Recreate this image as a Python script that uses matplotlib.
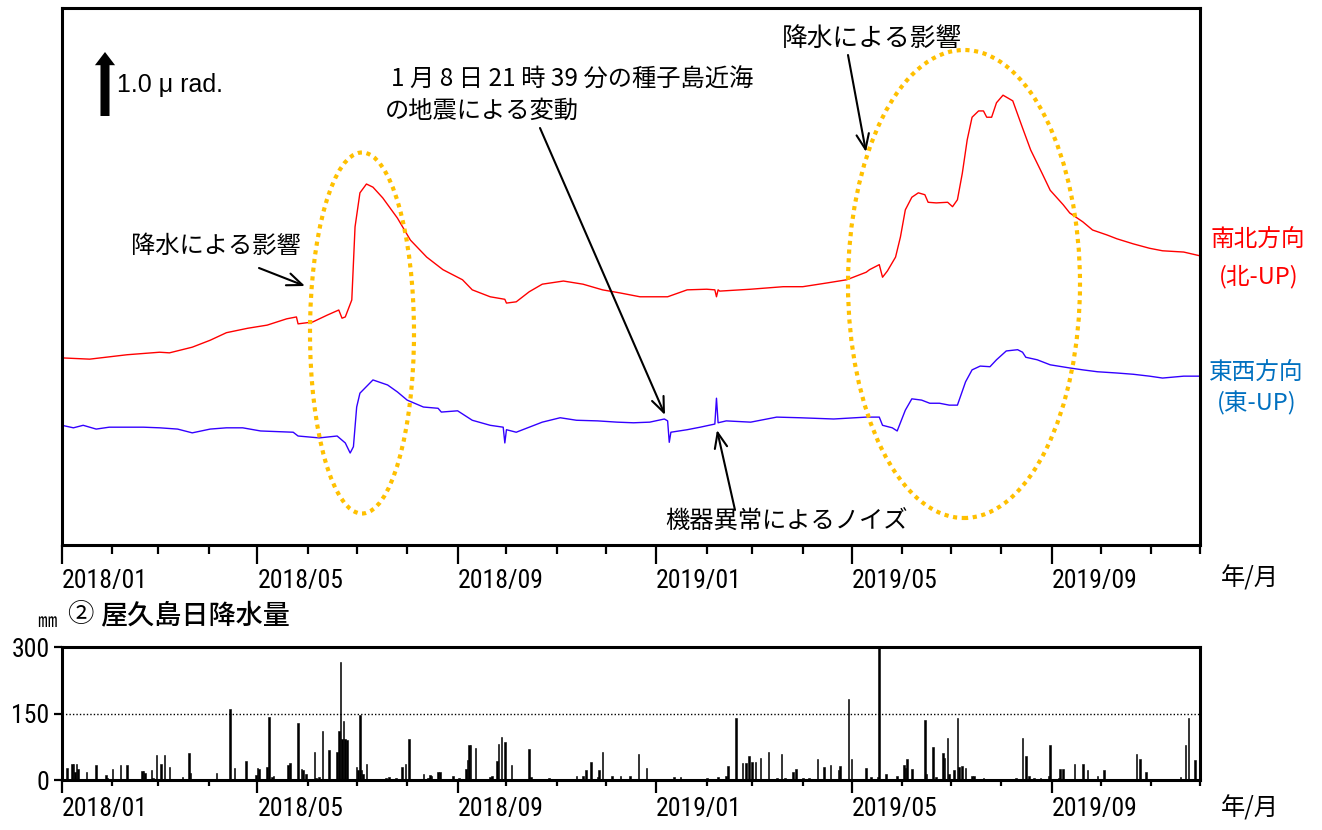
import numpy as np
import matplotlib
matplotlib.use("Agg")
import matplotlib.pyplot as plt
import matplotlib.dates as mdates
from matplotlib.patches import Ellipse
from matplotlib import font_manager
from matplotlib.font_manager import FontProperties

plt.rcParams['font.family'] = ['Noto Sans CJK JP', 'DejaVu Sans']

# ---------------- data ----------------
START = '2018-01-01'
END = '2019-12-01'

# 南北方向 (北-UP), days since 2018-01-01, tilt in micro-radian (relative)
ns_day = [0, 17, 40, 60, 66, 80, 91, 101, 114, 126, 138, 144, 145, 154, 163, 170, 172, 174,
          178, 180, 183, 187, 191, 197, 206, 214, 224, 234, 246, 252, 263, 272, 273, 279,
          287, 295, 308, 320, 332, 343, 355, 372, 384, 396, 401, 402, 403, 404, 423, 443,
          455, 470, 482, 494, 496, 502, 504, 507, 512, 515, 518, 522, 526, 530, 532, 537,
          544, 547, 550, 553, 556, 559, 563, 566, 568, 571, 574, 578, 584, 590, 595, 602,
          607, 615, 619, 627, 633, 642, 648, 658, 668, 676, 689, 699]
ns_urad = [2.97, 2.95, 3.02, 3.06, 3.05, 3.14, 3.25, 3.37, 3.44, 3.49, 3.59, 3.62, 3.51, 3.54,
           3.65, 3.73, 3.60, 3.62, 3.89, 5.05, 5.59, 5.73, 5.68, 5.51, 5.19, 4.84, 4.57, 4.37,
           4.21, 4.05, 3.94, 3.90, 3.84, 3.86, 4.02, 4.14, 4.19, 4.14, 4.05, 4.00, 3.94, 3.94,
           4.05, 4.06, 4.05, 3.94, 4.05, 4.03, 4.06, 4.10, 4.10, 4.16, 4.21, 4.33, 4.37, 4.45,
           4.25, 4.35, 4.57, 4.89, 5.32, 5.52, 5.59, 5.56, 5.44, 5.43, 5.44, 5.37, 5.48, 5.90,
           6.43, 6.79, 6.89, 6.89, 6.79, 6.79, 7.02, 7.14, 7.05, 6.62, 6.27, 5.90, 5.63, 5.40,
           5.27, 5.13, 5.00, 4.92, 4.86, 4.78, 4.71, 4.67, 4.65, 4.59]

# 東西方向 (東-UP)
ew_day = [0, 7, 13, 21, 29, 50, 60, 71, 80, 91, 101, 111, 122, 142, 145, 158, 169, 174, 177,
          179, 181, 183, 191, 200, 206, 212, 222, 231, 233, 243, 249, 252, 263, 271, 272, 273,
          279, 287, 295, 306, 316, 329, 341, 351, 361, 370, 372, 373, 374, 384, 392, 401, 402,
          403, 408, 423, 439, 453, 474, 494, 502, 504, 510, 513, 518, 522, 528, 533, 539, 545,
          550, 555, 559, 564, 570, 574, 580, 587, 590, 592, 599, 607, 619, 627, 636, 648, 658,
          668, 676, 689, 699]
ew_urad = [1.90, 1.86, 1.90, 1.84, 1.87, 1.87, 1.86, 1.84, 1.78, 1.84, 1.86, 1.86, 1.81, 1.79,
           1.73, 1.70, 1.73, 1.62, 1.46, 1.56, 2.19, 2.41, 2.62, 2.54, 2.43, 2.30, 2.19, 2.17,
           2.11, 2.13, 2.03, 1.98, 1.90, 1.87, 1.62, 1.83, 1.79, 1.87, 1.95, 2.02, 1.98, 1.97,
           1.95, 1.94, 1.95, 2.00, 1.97, 1.63, 1.79, 1.83, 1.87, 1.92, 2.33, 1.94, 1.97, 1.95,
           2.03, 2.02, 2.00, 2.03, 2.03, 1.90, 1.86, 1.81, 2.14, 2.32, 2.30, 2.25, 2.25, 2.22,
           2.22, 2.59, 2.78, 2.84, 2.83, 2.94, 3.08, 3.10, 3.06, 2.98, 2.94, 2.86, 2.81, 2.78,
           2.75, 2.73, 2.71, 2.68, 2.65, 2.68, 2.68]

# 屋久島日降水量 (mm)
rain_day = [3, 6, 7, 8, 9, 10, 15, 21, 27, 28, 31, 36, 40, 49, 50, 51, 55, 56, 58, 61, 63, 66,
            74, 76, 78, 79, 80, 95, 103, 106, 113, 119, 120, 121, 126, 127, 129, 130, 139, 140,
            141, 145, 147, 148, 150, 155, 156, 158, 160, 164, 169, 170, 171, 172, 173, 174, 175,
            181, 182, 183, 184, 185, 187, 199, 201, 205, 209, 211, 213, 222, 225, 226, 227, 231,
            232, 240, 244, 248, 249, 250, 251, 254, 263, 264, 267, 268, 270, 272, 276, 287, 288,
            299, 316, 320, 322, 325, 329, 330, 332, 338, 343, 349, 354, 359, 360, 370, 376, 380,
            396, 402, 403, 408, 409, 414, 418, 420, 422, 424, 426, 429, 434, 439, 442, 444, 449,
            451, 455, 459, 464, 468, 472, 477, 478, 483, 485, 494, 497, 501, 502, 506, 513, 517,
            518, 519, 522, 530, 531, 535, 537, 541, 542, 544, 545, 548, 550, 551, 553, 555, 559,
            560, 566, 583, 586, 590, 592, 594, 597, 601, 606, 607, 612, 613, 615, 622, 627, 630,
            636, 640, 660, 662, 666, 683, 687, 690, 692, 696]
rain_mm = [27, 36, 36, 18, 36, 25, 18, 34, 11, 5, 25, 34, 34, 20, 20, 16, 23, 5, 56, 36, 56, 29,
           7, 3, 61, 16, 3, 16, 160, 27, 43, 11, 27, 25, 29, 142, 7, 9, 34, 38,
           3, 129, 25, 23, 14, 63, 5, 7, 111, 68, 63, 111, 266, 93, 133, 93, 90,
           29, 23, 147, 23, 14, 36, 5, 7, 5, 29, 36, 93, 14, 5, 12, 9, 18,
           18, 9, 5, 25, 45, 79, 79, 72, 7, 9, 43, 81, 97, 86, 34, 70, 7,
           5, 9, 9, 23, 41, 7, 23, 63, 9, 9, 9, 59, 27, 2, 2, 7, 7,
           5, 2, 7, 9, 32, 140, 38, 38, 54, 41, 41, 50, 63, 4, 59, 4, 18,
           25, 5, 5, 47, 29, 34, 23, 32, 183, 47, 27, 7, 7, 300, 14, 9, 34,
           27, 47, 25, 135, 14, 74, 7, 61, 50, 95, 14, 23, 140, 29, 32, 27, 9,
           9, 5, 2, 5, 95, 54, 9, 5, 5, 9, 79, 5, 25, 25, 36, 36, 23,
           9, 23, 59, 47, 18, 2, 7, 79, 140, 45]

major_tick_dates = ['2018-01-01', '2018-05-01', '2018-09-01', '2019-01-01', '2019-05-01', '2019-09-01']
major_tick_labels = ['2018/01', '2018/05', '2018/09', '2019/01', '2019/05', '2019/09']
rain_ticks = [0, 150, 300]
rain_tick_labels = ['0', '150', '300']

# ---------------- helpers ----------------
def day_num(days):
    d = np.datetime64(START) + np.array(days).astype('timedelta64[D]')
    return mdates.date2num(d)

def date_num(dates):
    return mdates.date2num(np.array(dates, dtype='datetime64[D]'))

names = {f.name for f in font_manager.fontManager.ttflist}
fp_tick = None
for cand in ['Liberation Sans Narrow', 'Roboto Condensed', 'Open Sans Condensed']:
    if cand in names:
        fp_tick = FontProperties(family=cand, size=18.5)
        break
if fp_tick is None:
    has_cond = any(f.name == 'DejaVu Sans' and str(f.stretch) in ('condensed', 'semi-condensed')
                   for f in font_manager.fontManager.ttflist)
    if has_cond:
        fp_tick = FontProperties(family='DejaVu Sans', stretch='condensed', size=16)
    else:
        fp_tick = FontProperties(family='Liberation Sans', size=15)

W, H = 1322, 830
fig = plt.figure(figsize=(W / 100, H / 100), dpi=100)

AX_L, AX_R, AX_T, AX_B = 62, 1200, 8, 545
ax = fig.add_axes([AX_L / W, 1 - AX_B / H, (AX_R - AX_L) / W, (AX_B - AX_T) / H])
BX_T, BX_B = 647, 780
ax2 = fig.add_axes([AX_L / W, 1 - BX_B / H, (AX_R - AX_L) / W, (BX_B - BX_T) / H])

def axfrac(xp, yp):
    return ((xp - AX_L) / (AX_R - AX_L), (AX_B - yp) / (AX_B - AX_T))

def ftext(xp, yp, s, **kw):
    fig.text(xp / W, 1 - yp / H, s, **kw)

# ---------------- top panel ----------------
ax.plot(day_num(ns_day), ns_urad, color='#FF0000', lw=1.0)
ax.plot(day_num(ew_day), ew_urad, color='#3300FF', lw=1.0)
xmin, xmax = date_num([START])[0], date_num([END])[0]
ax.set_xlim(xmin, xmax)
ax.set_ylim(0, (AX_B - AX_T) / 63.0)
ax.set_yticks([])

minor_dates = np.arange(np.datetime64('2018-01'), np.datetime64('2020-01'), dtype='datetime64[M]').astype('datetime64[D]')
for a in (ax, ax2):
    a.set_xlim(xmin, xmax)
    a.set_xticks(date_num(major_tick_dates), major_tick_labels, fontproperties=fp_tick, ha='left')
    a.set_xticks(mdates.date2num(minor_dates), minor=True)
    for s in a.spines.values():
        s.set_linewidth(2.2)
ax.tick_params(axis='x', which='major', direction='out', length=14, width=1.6, pad=3)
ax.tick_params(axis='x', which='minor', direction='out', length=6.5, width=1.6)
ax2.tick_params(axis='x', which='major', direction='out', length=9, width=1.6, pad=3)
ax2.tick_params(axis='x', which='minor', direction='out', length=4.5, width=1.6)

# ellipses (orange dotted)
for (cx, cy, w, h) in [(362, 333, 104, 361), (964, 284, 232, 468)]:
    fx, fy = axfrac(cx, cy)
    e = Ellipse((fx, fy), w / (AX_R - AX_L), h / (AX_B - AX_T), transform=ax.transAxes,
                fill=False, edgecolor='#FFC000', lw=3.0, linestyle=(0, (1, 1.1)), zorder=3)
    ax.add_patch(e)

# arrows
def arrow(tail, head):
    ax.annotate('', xy=axfrac(*head), xytext=axfrac(*tail), xycoords='axes fraction',
                textcoords='axes fraction',
                arrowprops=dict(arrowstyle='->,head_length=1.1,head_width=0.45', lw=1.5,
                                color='black', shrinkA=0, shrinkB=0), zorder=4)

arrow((259, 268), (305, 286))
arrow((540, 128), (665, 415))
arrow((848, 55), (866, 152))
arrow((735, 510), (717, 430))

# scale arrow
ax.annotate('', xy=axfrac(105, 52), xytext=axfrac(105, 116), xycoords='axes fraction',
            textcoords='axes fraction',
            arrowprops=dict(arrowstyle='simple,head_length=0.95,head_width=1.45,tail_width=0.65',
                            fc='black', ec='black', lw=0, shrinkA=0, shrinkB=0, mutation_scale=10))
ftext(117, 85, '1.0 μ rad.', fontsize=18, family=['Liberation Sans', 'DejaVu Sans'],
      ha='left', va='center')

FS = 17.5
ftext(216, 246, '降水による影響', fontsize=FS, ha='center', va='center')
ftext(872, 39, '降水による影響', fontsize=18.5, ha='center', va='center')
ftext(391, 80, '1 月 8 日 21 時 39 分の種子島近海', fontsize=FS, ha='left', va='center')
ftext(385, 111, 'の地震による変動', fontsize=FS, ha='left', va='center')
ftext(786, 522, '機器異常によるノイズ', fontsize=FS, ha='center', va='center')

# right side labels
ftext(1258, 239, '南北方向', fontsize=17, color='#FF0000', ha='center', va='center')
ftext(1259, 277, '(北-UP)', fontsize=17, color='#FF0000', ha='center', va='center')
ftext(1256, 372, '東西方向', fontsize=17, color='#0070C0', ha='center', va='center')
ftext(1257, 403, '(東-UP)', fontsize=17, color='#0070C0', ha='center', va='center')

ftext(1250, 578, '年/月', fontsize=17.5, ha='center', va='center')
ftext(1250, 808, '年/月', fontsize=17.5, ha='center', va='center')

# ---------------- bottom panel ----------------
ax2.bar(day_num(rain_day), rain_mm, width=1.0, color='black', edgecolor='black', lw=0.4, zorder=2)
ax2.axhline(150, color='black', lw=1.0, linestyle=(0, (1, 1.5)), zorder=1)
ax2.set_ylim(0, 300)
ax2.set_yticks(rain_ticks, rain_tick_labels, fontproperties=fp_tick)
ax2.tick_params(axis='y', direction='out', length=6, width=1.6, pad=3)

ftext(47, 621, '㎜', fontsize=14, ha='center', va='center')
ftext(80, 614, '②', fontsize=19, ha='center', va='center')
ftext(100, 616, '屋久島日降水量', fontsize=19.5, fontweight='medium', ha='left', va='center')

fig.savefig('out.png', dpi=100)
